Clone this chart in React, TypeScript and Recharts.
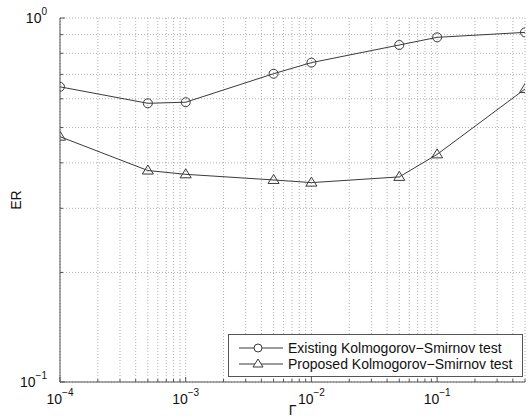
import React from "react";
import {
  LineChart,
  Line,
  XAxis,
  YAxis,
  ReferenceLine,
  Label,
} from "recharts";

const gamma = [1e-4, 5e-4, 1e-3, 5e-3, 1e-2, 5e-2, 1e-1, 5e-1];
const existingKS = [0.647, 0.583, 0.587, 0.703, 0.754, 0.843, 0.885, 0.913];
const proposedKS = [0.472, 0.381, 0.372, 0.359, 0.353, 0.366, 0.422, 0.638];

const xDecades = [1e-4, 1e-3, 1e-2, 1e-1];
const yDecades = [0.1, 1];
const xExp = ["-4", "-3", "-2", "-1"];
const yExp = ["-1", "0"];

const xTicks = xDecades
  .flatMap((d) => [1, 2, 3, 4, 5, 6, 7, 8, 9].map((k) => k * d))
  .filter((v) => v <= 0.5 * 1.0001);
const yTicks = [0.1, 0.2, 0.3, 0.4, 0.5, 0.6, 0.7, 0.8, 0.9, 1];

const data = gamma.map((g, i) => ({
  g,
  existing: existingKS[i],
  proposed: proposedKS[i],
}));

const AXIS = "#555";
const LINE = "#3a3a3a";
const GRID = "#b0b0b0";
const FONT = "'Liberation Sans', Arial, Helvetica, sans-serif";

const isMajorX = (v: number) => xDecades.some((d) => Math.abs(v - d) < d * 1e-6);
const isMajorY = (v: number) => yDecades.some((d) => Math.abs(v - d) < d * 1e-6);

function XTick(props: any) {
  const { x, y, payload, top } = props;
  const v = payload.value;
  const major = isMajorX(v);
  const len = major ? 5 : 3;
  const dir = top ? 1 : -1;
  const idx = xDecades.findIndex((d) => Math.abs(v - d) < d * 1e-6);
  return (
    <g>
      <line x1={x} x2={x} y1={y} y2={y + dir * len} stroke={AXIS} strokeWidth={1} />
      {!top && idx >= 0 && (
        <text x={x} y={y + 22} textAnchor="middle" fontFamily={FONT} fontSize={14} fill="#111">
          <tspan>10</tspan>
          <tspan dy={-8} fontSize={10}>{xExp[idx].replace("-", "\u2212")}</tspan>
        </text>
      )}
    </g>
  );
}

function YTick(props: any) {
  const { x, y, payload, right } = props;
  const v = payload.value;
  const major = isMajorY(v);
  const len = major ? 5 : 3;
  const dir = right ? -1 : 1;
  const idx = yDecades.findIndex((d) => Math.abs(v - d) < d * 1e-6);
  return (
    <g>
      <line x1={x} x2={x + dir * len} y1={y} y2={y} stroke={AXIS} strokeWidth={1} />
      {!right && idx >= 0 && (
        <text x={x - 13} y={y + 5} textAnchor="end" fontFamily={FONT} fontSize={14} fill="#111">
          <tspan>10</tspan>
          <tspan dy={-8} fontSize={10}>{yExp[idx].replace("-", "\u2212")}</tspan>
        </text>
      )}
    </g>
  );
}

function Circle(props: any) {
  const { cx, cy } = props;
  if (cx == null || cy == null) return null;
  return <circle cx={cx} cy={cy} r={4.5} fill="none" stroke={LINE} strokeWidth={1} />;
}

function Triangle(props: any) {
  const { cx, cy } = props;
  if (cx == null || cy == null) return null;
  return (
    <path
      d={`M${cx},${cy - 5.5}L${cx - 5.5},${cy + 3.5}L${cx + 5.5},${cy + 3.5}Z`}
      fill="none"
      stroke={LINE}
      strokeWidth={1}
    />
  );
}

const legendItems = [
  { name: "Existing Kolmogorov\u2212Smirnov test", marker: "circle" },
  { name: "Proposed Kolmogorov\u2212Smirnov test", marker: "triangle" },
];

function LegendBox() {
  return (
    <div
      style={{
        position: "absolute",
        left: 228,
        top: 334,
        border: `1px solid ${AXIS}`,
        background: "#fff",
        width: 295,
        height: 43,
        padding: "5px 0 0 0",
        fontFamily: FONT,
        fontSize: 14,
        color: "#111",
        lineHeight: "16px",
        boxSizing: "border-box",
      }}
    >
      {legendItems.map((it) => (
        <div key={it.name} style={{ display: "flex", alignItems: "center", height: 16 }}>
          <svg width={59} height={16} style={{ display: "block" }}>
            <line x1={10} x2={54} y1={8} y2={8} stroke={LINE} strokeWidth={1} />
            {it.marker === "circle" ? (
              <circle cx={29} cy={8} r={4} fill="#fff" stroke={LINE} />
            ) : (
              <path d="M29,3L24,11L34,11Z" fill="#fff" stroke={LINE} />
            )}
          </svg>
          <span>{it.name}</span>
        </div>
      ))}
    </div>
  );
}

export default function App() {
  return (
    <div style={{ position: "absolute", left: 0, top: 0, width: 530, height: 419, background: "#fff" }}>
      <LineChart
        width={530}
        height={419}
        data={data}
        margin={{ top: 18, right: 5, bottom: 0, left: 0 }}
      >
        {xTicks.map((v) => (
          <ReferenceLine
            key={"gx" + v}
            x={v}
            stroke={GRID}
            strokeDasharray="1 2"
            ifOverflow="visible"
          />
        ))}
        {yTicks.map((v) => (
          <ReferenceLine
            key={"gy" + v}
            y={v}
            stroke={GRID}
            strokeDasharray="1 2"
            ifOverflow="visible"
          />
        ))}
        <XAxis
          dataKey="g"
          type="number"
          scale="log"
          domain={[1e-4, 0.5]}
          ticks={xTicks}
          interval={0}
          allowDataOverflow
          height={37}
          tickSize={0}
          tickMargin={0}
          tickLine={false}
          axisLine={{ stroke: AXIS }}
          tick={<XTick />}
        >
          <Label
            value="Γ"
            position="insideBottom"
            offset={4}
            style={{ fontFamily: FONT, fontSize: 14, fill: "#111" }}
          />
        </XAxis>
        <XAxis
          xAxisId="top"
          dataKey="g"
          orientation="top"
          type="number"
          scale="log"
          domain={[1e-4, 0.5]}
          ticks={xTicks}
          interval={0}
          allowDataOverflow
          height={0}
          tickSize={0}
          tickMargin={0}
          tickLine={false}
          axisLine={{ stroke: AXIS }}
          tick={<XTick top />}
        />
        <YAxis
          type="number"
          scale="log"
          domain={[0.1, 1]}
          ticks={yTicks}
          interval={0}
          allowDataOverflow
          width={60}
          tickSize={0}
          tickMargin={0}
          tickLine={false}
          axisLine={{ stroke: AXIS }}
          tick={<YTick />}
        >
          <Label
            value="ER"
            angle={-90}
            position="insideLeft"
            offset={16}
            style={{ fontFamily: FONT, fontSize: 14, fill: "#111", textAnchor: "middle" }}
          />
        </YAxis>
        <YAxis
          yAxisId="right"
          orientation="right"
          type="number"
          scale="log"
          domain={[0.1, 1]}
          ticks={yTicks}
          interval={0}
          allowDataOverflow
          width={0}
          tickSize={0}
          tickMargin={0}
          tickLine={false}
          axisLine={{ stroke: AXIS }}
          tick={<YTick right />}
        />
        <Line
          dataKey="existing"
          stroke={LINE}
          strokeWidth={1}
          dot={<Circle />}
          activeDot={false}
          isAnimationActive={false}
        />
        <Line
          dataKey="proposed"
          stroke={LINE}
          strokeWidth={1}
          dot={<Triangle />}
          activeDot={false}
          isAnimationActive={false}
        />
      </LineChart>
      <LegendBox />
    </div>
  );
}
